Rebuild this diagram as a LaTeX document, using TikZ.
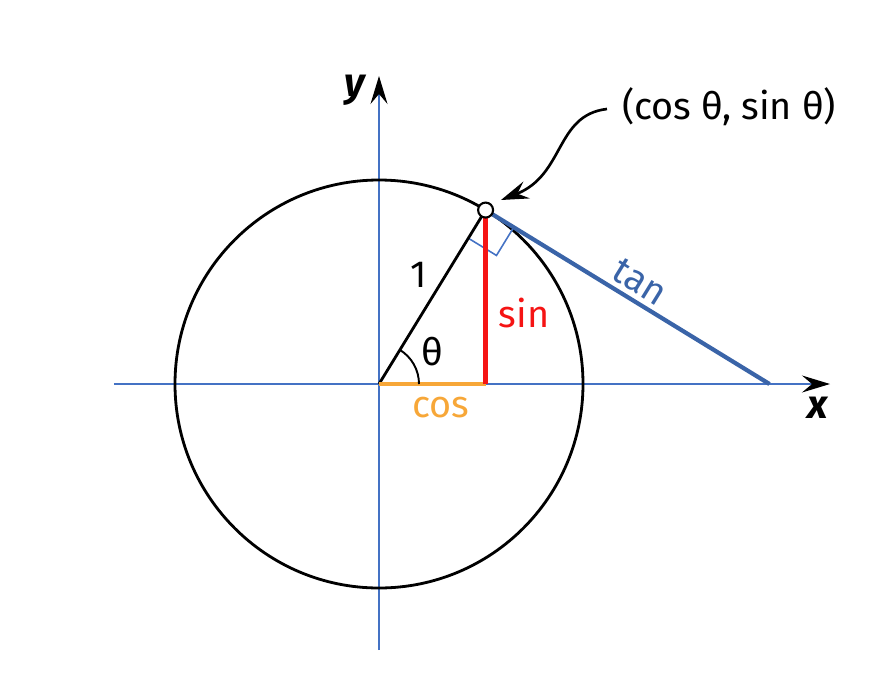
\documentclass[tikz,border=0pt]{standalone}
\usepackage{fontspec}
\setmainfont{Fira Sans}
\usetikzlibrary{arrows.meta,calc}
\definecolor{axisblue}{RGB}{68,114,196}
\definecolor{tanblue}{RGB}{58,100,168}
\definecolor{sinred}{RGB}{245,20,20}
\definecolor{cosorange}{RGB}{247,167,56}
\tikzset{
  axis/.style={axisblue, line width=0.9pt, -{Stealth[length=0.56cm,width=0.34cm,inset=0.2cm,black]}},
  lbl/.style={font=\fontsize{21.5}{26}\selectfont, inner sep=0pt},
  axlbl/.style={font=\fontsize{23}{27}\selectfont\bfseries\itshape, inner sep=0pt},
  thick1/.style={line width=1.6pt, black},
}
\begin{document}
\begin{tikzpicture}[x=0.02cm,y=0.02cm]
\useasboundingbox (-379,-293) rectangle (509,384);
\def\th{58.5}
\coordinate (O) at (0,0);
\coordinate (P) at (\th:204);
\coordinate (F) at ({204*cos(\th)},0);
\coordinate (T) at ({204/cos(\th)},0);
\coordinate (xs) at (-265,0);
\coordinate (xe) at (451,0);
\coordinate (ys) at (0,-266);
\coordinate (ye) at (0,308);
% axes
\draw[axis] (xs) -- (xe);
\draw[axis] (ys) -- (ye);
% circle
\draw[thick1] (O) circle (204);
% right angle marker
\draw[axisblue, line width=0.9pt]
  ($(P)+(\th+180:33)$) -- ($(P)+(\th+180:33)+(\th-90:33)$) -- ($(P)+(\th-90:33)$);
% lines
\draw[thick1] (O) -- (P);
\draw[cosorange, line width=2.4pt] (O) -- (F);
\draw[sinred, line width=2.4pt] (F) -- (P);
\draw[tanblue, line width=2.4pt] (P) -- (T);
% angle arc
\draw[black, line width=1.1pt] (40,0) arc (0:\th:40);
% point marker
\node[draw=black, fill=white, circle, line width=1.2pt, minimum size=0.3cm, inner sep=0pt] (Pm) at (P) {};
% labels
\node[axlbl] (ylab) at (-24,294) {y};
\node[axlbl] (xlab) at (439,-24) {x};
\node[lbl] (one) at (40,109) {1};
\node[lbl] (theta) at (53,32) {θ};
\node[lbl, text=sinred] (sinl) at (145,71) {sin};
\node[lbl, text=cosorange] (cosl) at (62,-24) {cos};
\node[lbl, text=tanblue, rotate=-31.7] (tanl) at (261,102) {tan};
\node[lbl] (pt) at (350,277) {(cos θ, sin θ)};
% curved arrow
\coordinate (cs) at (228,275);
\coordinate (ce) at (122,184);
\draw[line width=1.5pt, -{Stealth[length=0.55cm,width=0.36cm,inset=0.2cm]}]
  (cs) .. controls (176,269) and (186,209) .. (ce);
\end{tikzpicture}
\end{document}
